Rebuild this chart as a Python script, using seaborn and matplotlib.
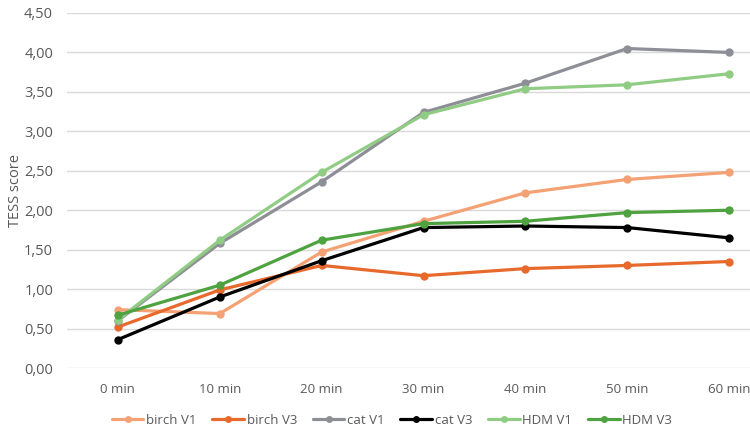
import matplotlib
matplotlib.use("Agg")
import matplotlib.pyplot as plt
import seaborn as sns
import pandas as pd
from matplotlib.lines import Line2D

times = ["0 min", "10 min", "20 min", "30 min", "40 min", "50 min", "60 min"]
birch_v1 = [0.74, 0.69, 1.47, 1.86, 2.22, 2.39, 2.48]
birch_v3 = [0.52, 0.99, 1.30, 1.17, 1.26, 1.30, 1.35]
cat_v1 = [0.60, 1.58, 2.36, 3.24, 3.61, 4.05, 4.00]
cat_v3 = [0.36, 0.90, 1.36, 1.78, 1.80, 1.78, 1.65]
hdm_v1 = [0.61, 1.62, 2.48, 3.21, 3.54, 3.59, 3.73]
hdm_v3 = [0.67, 1.05, 1.62, 1.83, 1.86, 1.97, 2.00]

series = {
    "birch V1": birch_v1,
    "birch V3": birch_v3,
    "cat V1": cat_v1,
    "cat V3": cat_v3,
    "HDM V1": hdm_v1,
    "HDM V3": hdm_v3,
}
colors = {
    "birch V1": "#F4A173",
    "birch V3": "#E8692C",
    "cat V1": "#8E8F96",
    "cat V3": "#000000",
    "HDM V1": "#91CC84",
    "HDM V3": "#4EA23F",
}
yticks = [0, 0.5, 1.0, 1.5, 2.0, 2.5, 3.0, 3.5, 4.0, 4.5]

rows = []
for name, vals in series.items():
    for i, (t, v) in enumerate(zip(times, vals)):
        rows.append({"pos": i, "time": t, "score": v, "series": name})
df = pd.DataFrame(rows)

sns.set_style("white")
plt.rcParams["font.family"] = ["Open Sans", "DejaVu Sans"]

fig = plt.figure(figsize=(7.5, 4.3), dpi=100)
ax = fig.add_axes([67 / 750, 1 - 368 / 430, 713 / 750, 355 / 430])

order = list(series.keys())
sns.lineplot(data=df, x="pos", y="score", hue="series", hue_order=order,
             palette=colors, marker="o", markersize=6, markeredgewidth=0,
             linewidth=2.3, ax=ax, legend=False, zorder=3)

ax.set_xlim(-0.5, 6.5)
ax.set_ylim(0, 4.5)
ax.set_yticks(yticks)
ax.set_yticklabels([f"{v:.2f}".replace(".", ",") for v in yticks])
ax.set_xticks(range(len(times)))
ax.set_xticklabels(times)
ax.tick_params(axis="both", length=0, colors="#595959")
ax.tick_params(axis="y", pad=10, labelsize=10.5)
ax.tick_params(axis="x", pad=11, labelsize=9.5)
ax.grid(axis="y", color="#D9D9D9", linewidth=1)
ax.set_axisbelow(True)
for s in ax.spines.values():
    s.set_visible(False)
ax.set_xlabel("")
ax.set_ylabel("TESS score", fontsize=10.5, color="#595959", labelpad=1)

handles = [Line2D([0], [0], color=colors[n], marker="o", markersize=5,
                  markeredgewidth=0, linewidth=2.3) for n in order]
fig.legend(handles, order, loc="center", bbox_to_anchor=(392 / 750, 1 - 420 / 430),
           ncol=6, frameon=False, fontsize=9.5, handlelength=2.4,
           handletextpad=0.2, columnspacing=1.2, labelcolor="#595959")

fig.savefig("out.png", dpi=100)
